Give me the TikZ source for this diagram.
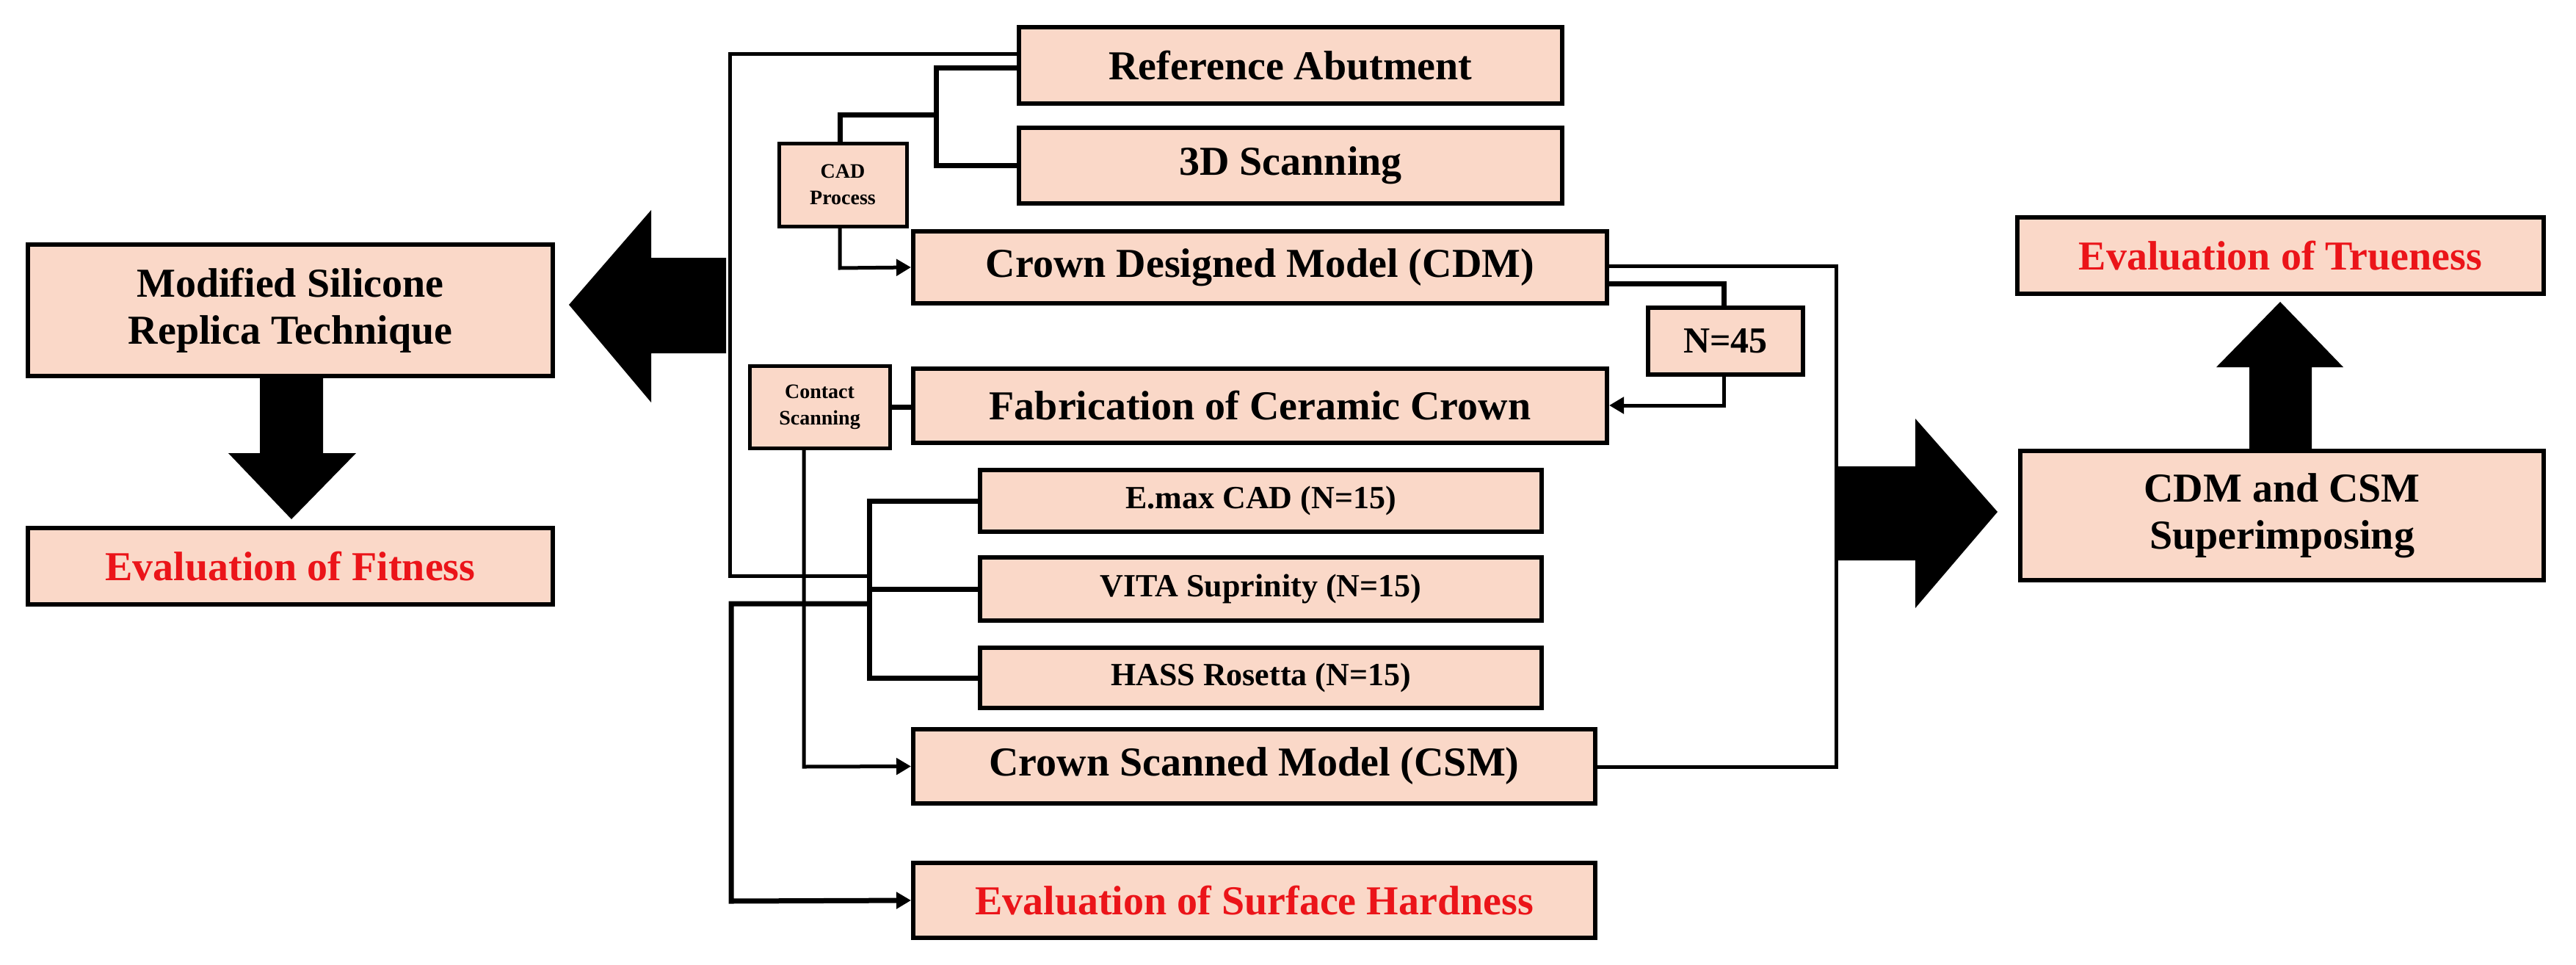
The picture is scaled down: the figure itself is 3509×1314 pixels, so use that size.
\documentclass[tikz,border=0pt]{standalone}
\usepackage{fontspec}
\setmainfont{Liberation Serif}
\usetikzlibrary{arrows.meta,calc}
\definecolor{peach}{RGB}{250,216,200}
\definecolor{redtxt}{RGB}{235,20,25}
\tikzset{
 box/.style={draw=black,line width=6pt,fill=peach,inner sep=0pt,font=\bfseries\fontsize{56}{64}\selectfont,align=center},
 sbox/.style={box,font=\bfseries\fontsize{44}{50}\selectfont},
 tbox/.style={box,line width=5pt,font=\bfseries\fontsize{28}{36}\selectfont},
 red/.style={text=redtxt},
 ln/.style={line width=7pt},
 tln/.style={line width=5pt},
 arr/.style={-{Triangle[length=20pt,width=22pt]}},
 big/.style={fill=black,draw=none}
}
\begin{document}
\begin{tikzpicture}[x=1pt,y=-1pt]
\useasboundingbox (0,0) rectangle (3509,1314);
\node[box,minimum width=740,minimum height=104] (ref) at (1758,89) {Reference Abutment};
\node[box,minimum width=740,minimum height=103] (scan) at (1758,225.5) {3D Scanning};
\node[tbox,minimum width=174,minimum height=113] (cad) at (1148,251.5) {CAD\\Process};
\node[box,minimum width=945,minimum height=98] (cdm) at (1716.5,364) {Crown Designed Model (CDM)};
\node[box,font=\bfseries\fontsize{50}{56}\selectfont,minimum width=211,minimum height=91] (n45) at (2350.5,464.5) {N=45};
\node[tbox,minimum width=191,minimum height=112] (contact) at (1116.5,554) {Contact\\Scanning};
\node[box,minimum width=945,minimum height=101] (fab) at (1716.5,552.5) {Fabrication of Ceramic Crown};
\node[sbox,minimum width=765,minimum height=84] (emax) at (1717.5,682) {E.max CAD (N=15)};
\node[sbox,minimum width=765,minimum height=86] (vita) at (1717.5,802) {VITA Suprinity (N=15)};
\node[sbox,minimum width=765,minimum height=82] (hass) at (1717.5,923) {HASS Rosetta (N=15)};
\node[box,minimum width=929,minimum height=101] (csm) at (1708.5,1043.5) {Crown Scanned Model (CSM)};
\node[box,red,minimum width=929,minimum height=102] (hard) at (1708.5,1226) {Evaluation of Surface Hardness};
\node[box,minimum width=715,minimum height=179] (msrt) at (395.5,422.5) {Modified Silicone\\Replica Technique};
\node[box,red,minimum width=715,minimum height=104] (fit) at (395.5,771) {Evaluation of Fitness};
\node[box,red,minimum width=717,minimum height=104] (true) at (3106.5,348) {Evaluation of Trueness};
\node[box,minimum width=713,minimum height=176] (sup) at (3108.5,702) {CDM and CSM\\Superimposing};

% connectors
\draw[tln] (ref.west |- 0,74) -- (994,74) -- (994,784) -- (1184,784);
\draw[ln] (ref.west |- 0,92) -- (1275,92) -- (1275,225.5) -- (scan.west);
\draw[ln] (1275,156) -- (1144,156) -- (cad.north -| 1144,0);
\draw[tln,arr] (cad.south -| 1144,0) -- (1144,365) -- (cdm.west);
\draw[ln] (contact.east) -- (fab.west |- contact.east);
\draw[tln,arr] (contact.south -| 1095,0) -- (1095,1044) -- (csm.west);
\draw[ln] (emax.west) -- (1184,682) -- (1184,923) -- (hass.west);
\draw[ln] (1184,802) -- (vita.west);
\draw[ln,arr] (1184,822) -- (996,822) -- (996,1227) -- (hard.west);
\draw[ln] (cdm.east |- 0,386) -- (2348,386) -- (n45.north -| 2348,0);
\draw[tln,arr] (n45.south -| 2348,0) -- (2348,552) -- (fab.east |- 0,552);
\draw[tln] (cdm.east |- 0,362) -- (2501,362) -- (2501,1044) -- (csm.east |- 0,1044);

% big arrows
\fill[big] (989,351) -- (887,351) -- (887,286) -- (775,415) -- (887,548) -- (887,481) -- (989,481) -- cycle;
\fill[big] (354,512) -- (440,512) -- (440,617) -- (485,617) -- (397,707) -- (311,617) -- (354,617) -- cycle;
\fill[big] (2501,635) -- (2609,635) -- (2609,570) -- (2721,697) -- (2609,828) -- (2609,763) -- (2501,763) -- cycle;
\fill[big] (3064,614) -- (3149,614) -- (3149,500) -- (3192,500) -- (3106,411) -- (3019,500) -- (3064,500) -- cycle;
\end{tikzpicture}
\end{document}
